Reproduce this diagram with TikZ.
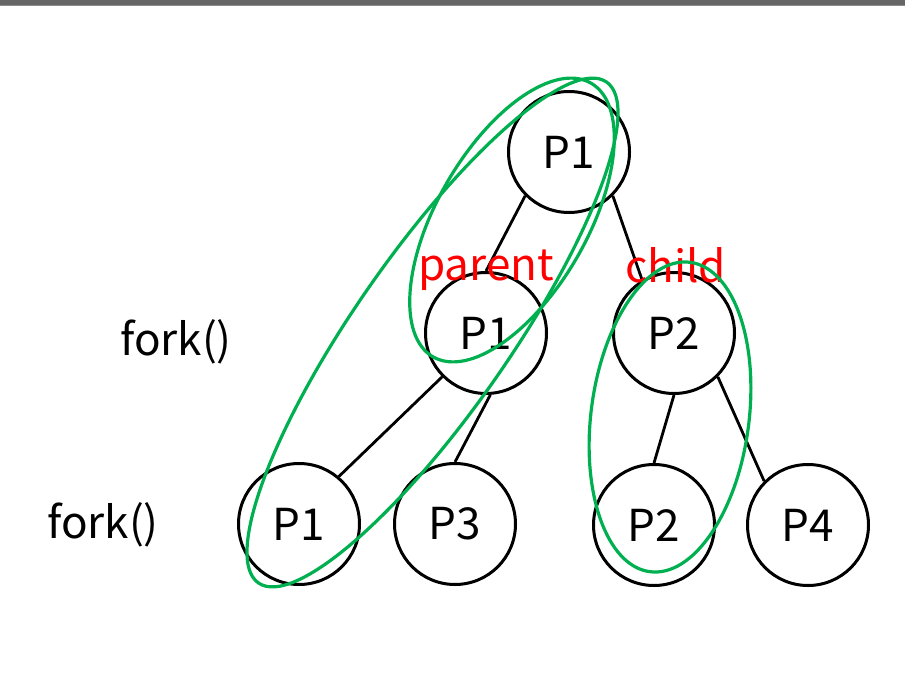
\documentclass[tikz,border=0pt]{standalone}
\usepackage{fontspec}
\setmainfont{Noto Sans CJK KR}
\definecolor{grn}{HTML}{00B050}
\definecolor{barc}{HTML}{666666}
\definecolor{barl}{HTML}{8C8C8C}
\definecolor{lblred}{HTML}{FF0000}
\begin{document}
\begin{tikzpicture}[x=1pt,y=-1pt,
  proc/.style={circle,draw,line width=3pt,minimum size=121pt,inner sep=0pt,
    font=\fontsize{44}{50}\selectfont},
  edge/.style={line width=2.8pt},
  lbl/.style={inner sep=0pt,anchor=base west,font=\fontsize{44}{50}\selectfont},
  redlbl/.style={lbl,text=lblred},
  loop/.style={draw=grn,line width=3.2pt}]
\useasboundingbox (0,0) rectangle (905,677);
\fill[barc] (0,0) rectangle (905,5);
\fill[barl] (0,5) rectangle (905,6);

\node[proc] (t1) at (569,152) {P1};
\node[proc] (m1) at (486,333) {P1};
\node[proc] (m2) at (674,333) {P2};
\node[proc] (b1) at (299,524) {P1};
\node[proc] (b3) at (455,524) {P3};
\node[proc] (b2) at (654,525) {P2};
\node[proc] (b4) at (808,525) {P4};

\draw[edge] (t1.-135) -- (m1.north);
\draw[edge] (t1.-45) -- (m2.121);
\draw[edge] (m1.-135) -- (b1.50);
\draw[edge] (m1.-86) -- (b3.north);
\draw[edge] (m2.south) -- (b2.north);
\draw[edge] (m2.-45) -- (b4.135);

\node[lbl] (f1) at (120,355) {fork()};
\node[lbl] (f2) at (47,538) {fork()};
\node[redlbl] (par) at (418,280) {parent};
\node[redlbl] (ch) at (625,282) {child};

\draw[loop] (432.5,332.5) circle [x radius=305pt, y radius=78pt, rotate=55.2];
\draw[loop] (512,220) circle [x radius=158pt, y radius=75pt, rotate=60];
\draw[loop] (670,417) circle [x radius=156pt, y radius=79pt, rotate=82.6];
\end{tikzpicture}
\end{document}
